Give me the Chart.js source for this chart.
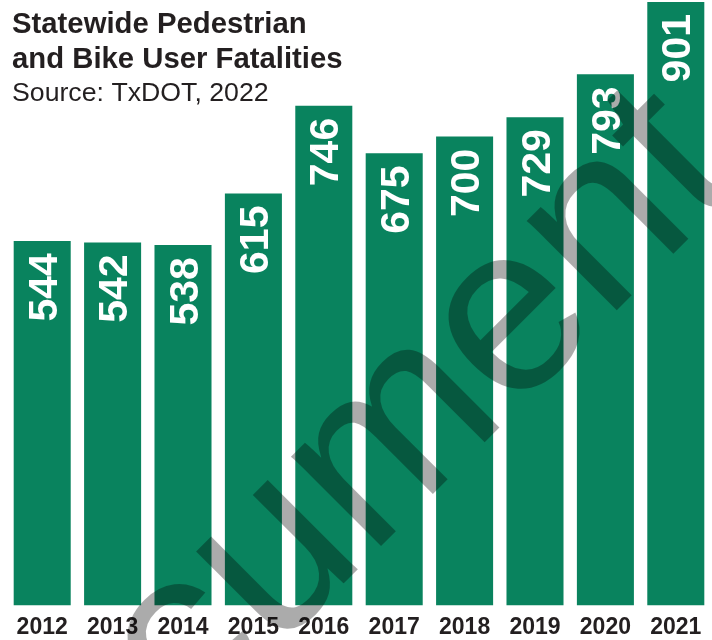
<!DOCTYPE html>
<html>
<head>
<meta charset="utf-8">
<title>Statewide Pedestrian and Bike User Fatalities</title>
<script src="https://cdn.jsdelivr.net/npm/chart.js@4.4.1/dist/chart.umd.min.js"></script>
<style>
  html, body { margin: 0; padding: 0; background: #ffffff; }
  #wrap { position: relative; width: 712px; height: 640px; }
</style>
</head>
<body>
<div id="wrap"><canvas id="fatalChart" width="712" height="640"></canvas></div>
<script>
// Chart data
const years = ['2012', '2013', '2014', '2015', '2016', '2017', '2018', '2019', '2020', '2021'];
const fatalities = [544, 542, 538, 615, 746, 675, 700, 729, 793, 901];
const titleLines = ['Statewide Pedestrian', 'and Bike User Fatalities'];
const sourceLine = 'Source: TxDOT, 2022';
const stampText = 'cument';

const BAR_GREEN = '#09835e';
const INK = '#231f20';

// Rotated white value inside the top of each bar
const valueLabels = {
    id: 'valueLabels',
    afterDatasetsDraw(chart) {
        const ctx = chart.ctx;
        const meta = chart.getDatasetMeta(0);
        const size = 41;
        ctx.save();
        ctx.font = 'bold ' + size + 'px "Liberation Sans", Arial, sans-serif';
        ctx.fillStyle = '#ffffff';
        ctx.textAlign = 'right';
        ctx.textBaseline = 'alphabetic';
        meta.data.forEach((bar, i) => {
            ctx.save();
            ctx.translate(bar.x, bar.y + 12);
            ctx.rotate(-Math.PI / 2);
            ctx.fillText(String(fatalities[i]), 0, size * 0.358);
            ctx.restore();
        });
        ctx.restore();
    }
};

// Title block in the upper left corner
const titleBlock = {
    id: 'titleBlock',
    afterDraw(chart) {
        const ctx = chart.ctx;
        ctx.save();
        ctx.fillStyle = INK;
        ctx.textAlign = 'left';
        ctx.textBaseline = 'alphabetic';
        ctx.font = 'bold 29.3px "Liberation Sans", Arial, sans-serif';
        ctx.fillText(titleLines[0], 12, 33);
        ctx.fillText(titleLines[1], 12, 68);
        ctx.font = '26.7px "Liberation Sans", Arial, sans-serif';
        ctx.fillText(sourceLine, 12, 101);
        ctx.restore();
    }
};

// Translucent diagonal stamp across the bars
const stamp = {
    id: 'stamp',
    afterDraw(chart) {
        const ctx = chart.ctx;
        ctx.save();
        ctx.fillStyle = 'rgba(0, 0, 0, 0.33)';
        ctx.font = '240px "Liberation Sans", Arial, sans-serif';
        ctx.textAlign = 'left';
        ctx.textBaseline = 'alphabetic';
        ctx.translate(190, 737);
        ctx.rotate(-Math.PI / 4);
        ctx.fillText(stampText, 0, 0);
        ctx.restore();
    }
};

new Chart(document.getElementById('fatalChart'), {
    type: 'bar',
    data: {
        labels: years,
        datasets: [{
            data: fatalities,
            backgroundColor: BAR_GREEN,
            borderWidth: 0,
            barPercentage: 0.81,
            categoryPercentage: 1.0
        }]
    },
    options: {
        responsive: false,
        animation: false,
        layout: { padding: { top: 0, left: 7, right: 1, bottom: -9 } },
        plugins: {
            legend: { display: false },
            tooltip: { enabled: false },
            title: { display: false }
        },
        scales: {
            x: {
                grid: { display: false, drawTicks: false },
                border: { display: false },
                ticks: {
                    color: INK,
                    padding: 8,
                    maxRotation: 0,
                    autoSkip: false,
                    font: { family: '"Liberation Sans Narrow", "Liberation Sans", Arial, sans-serif', size: 23, weight: 'bold' }
                }
            },
            y: {
                display: false,
                min: 0,
                max: 904
            }
        }
    },
    plugins: [valueLabels, titleBlock, stamp]
});
</script>
</body>
</html>
